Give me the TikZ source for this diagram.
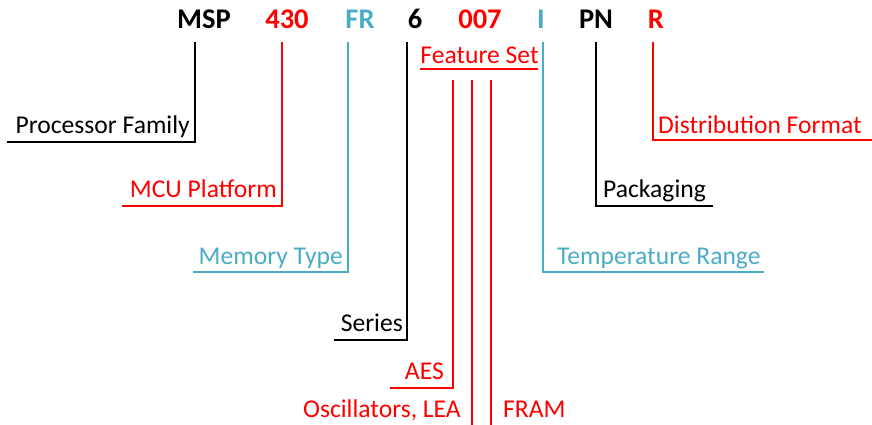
\documentclass[tikz,border=0pt]{standalone}
\usepackage{fontspec}
\setmainfont{Carlito}
\definecolor{tired}{RGB}{255,0,0}
\definecolor{tiblue}{RGB}{75,172,198}
\begin{document}
\begin{tikzpicture}[x=1pt,y=-1pt,
  code/.style={font=\fontsize{28.5}{30}\selectfont\bfseries, inner sep=0pt, anchor=base},
  lbl/.style={font=\fontsize{25.6}{28}\selectfont, inner sep=0pt},
  conn/.style={line width=1.4pt}]
\useasboundingbox (0,0) rectangle (872,425);
% part number
\node[code] (msp) at (204,29) {MSP};
\node[code,text=tired] (n430) at (287,29) {430};
\node[code,text=tiblue] (fr) at (360,29) {FR};
\node[code] (six) at (415,29) {6};
\node[code,text=tired] (n007) at (480,29) {007};
\node[code,text=tiblue] (ii) at (541,29) {I};
\node[code] (pn) at (596,29) {PN};
\node[code,text=tired] (rr) at (656,29) {R};
% coordinates
\coordinate (s1) at (195,42);  \coordinate (e1) at (7,142);
\coordinate (s2) at (282,42);  \coordinate (e2) at (122,206);
\coordinate (s3) at (348,42);  \coordinate (e3) at (193,272);
\coordinate (s4) at (407,42);  \coordinate (e4) at (334,340);
\coordinate (s5) at (543,42);  \coordinate (e5) at (764,272);
\coordinate (s6) at (596,42);  \coordinate (e6) at (713,206);
\coordinate (s7) at (653,42);  \coordinate (e7) at (872,140);
\coordinate (u1) at (420,69);  \coordinate (u2) at (538,69);
\coordinate (f1) at (453,80);  \coordinate (g1) at (390,388);
\coordinate (f2) at (472,80);  \coordinate (g2) at (472,425);
\coordinate (f3) at (491,80);  \coordinate (g3) at (491,425);
% connectors
\draw[conn,black] (s1) |- (e1);
\draw[conn,tired] (s2) |- (e2);
\draw[conn,tiblue] (s3) |- (e3);
\draw[conn,black] (s4) |- (e4);
\draw[conn,tiblue] (s5) |- (e5);
\draw[conn,black] (s6) |- (e6);
\draw[conn,tired] (s7) |- (e7);
\draw[conn,tired] (u1) -- (u2);
\draw[conn,tired] (f1) |- (g1);
\draw[conn,tired] (f2) -- (g2);
\draw[conn,tired] (f3) -- (g3);
% labels
\node[lbl,anchor=base east] (pfam) at (190,133) {Processor Family};
\node[lbl,anchor=base east,text=tired] (mcu) at (277,197) {MCU Platform};
\node[lbl,anchor=base east,text=tiblue] (mem) at (343,264) {Memory Type};
\node[lbl,anchor=base east] (ser) at (403,331) {Series};
\node[lbl,anchor=base,text=tired] (fs) at (479.5,64) {Feature Set};
\node[lbl,anchor=base east,text=tired] (aes) at (444,379) {AES};
\node[lbl,anchor=base east,text=tired] (osc) at (461,417) {Oscillators, LEA};
\node[lbl,anchor=base west,text=tired] (fram) at (503,417) {FRAM};
\node[lbl,anchor=base west,text=tiblue] (temp) at (557,264) {Temperature Range};
\node[lbl,anchor=base west] (pack) at (603,197) {Packaging};
\node[lbl,anchor=base west,text=tired] (dist) at (658,133) {Distribution Format};
\end{tikzpicture}
\end{document}
